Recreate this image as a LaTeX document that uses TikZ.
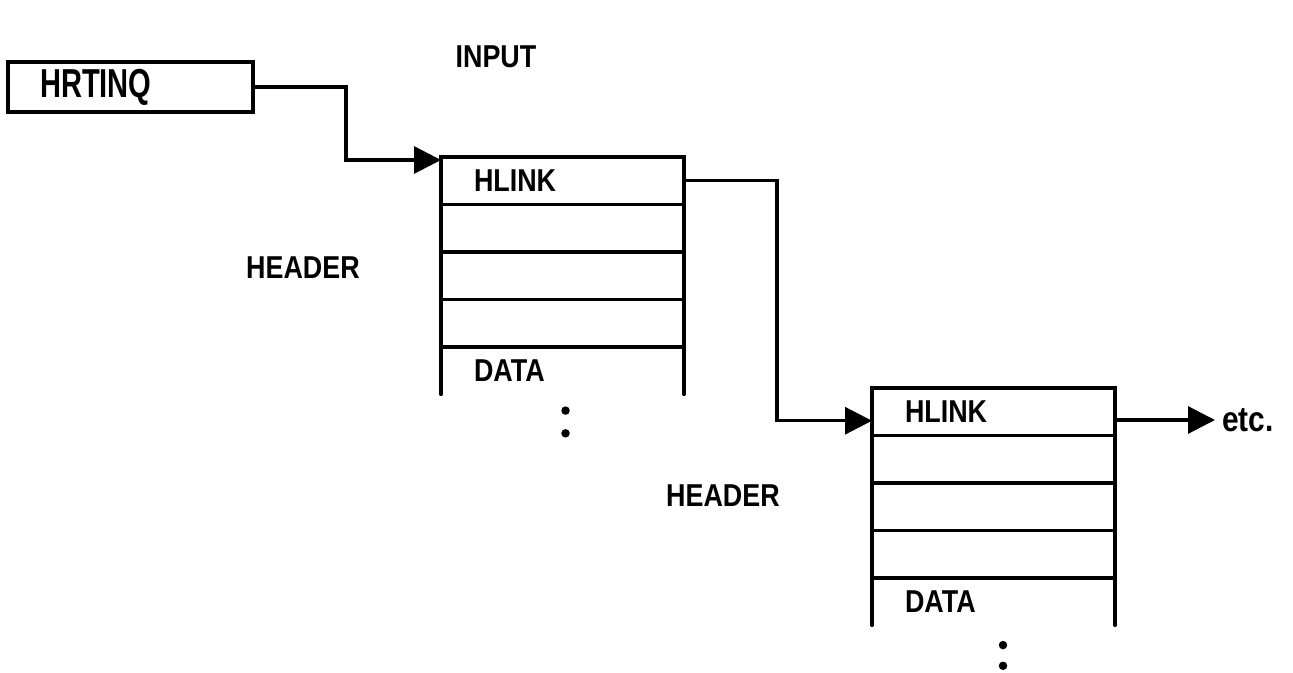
\documentclass[tikz,border=0pt]{standalone}
\usepackage{fontspec}
\newfontfamily\lblfont{Liberation Sans}[FakeStretch=0.85]
\newfontfamily\ptrfont{Liberation Sans}[FakeStretch=0.72]
\usetikzlibrary{positioning,arrows.meta,calc}
\newcommand\lblsize{\lblfont\bfseries\fontsize{18}{21}\selectfont}
\newcommand\ptrsize{\ptrfont\bfseries\fontsize{23}{26}\selectfont}

\begin{document}
\begin{tikzpicture}[
    lbl/.style={font=\lblsize, inner sep=0pt},
    ptrbox/.style={rectangle, draw, line width=1.8pt, outer sep=0pt,
        minimum width=4.9cm, minimum height=1cm, text width=3.62cm,
        inner xsep=0.64cm, align=left, font=\ptrsize},
    field/.style={rectangle, draw, line width=1.8pt, outer sep=0pt,
        minimum height=0.95cm, text width=3.54cm, inner xsep=0.66cm,
        align=left, font=\lblsize},
    side/.style={line width=1.8pt, line cap=round},
    dot/.style={circle, fill, inner sep=0pt, minimum size=0.17cm},
    link/.style={draw, line width=1.8pt, -{Triangle[length=0.54cm, width=0.54cm]}}]

    \useasboundingbox (0,0) rectangle (25.86,-13.46);

    % ====== Input pointer ======
    \node [lbl] (input) at (9.92,-1.14) {INPUT};
    \node [ptrbox, anchor=north west] (hrtinq) at (0.16,-1.24) {HRTINQ};
    \coordinate (in1) at ([yshift=-0.06cm]8.82,-3.14);

    % ====== First header ======
    \node [field, anchor=north west] (h1) at (8.82,-3.14) {HLINK};
    \node [field, below=0pt of h1]  (r11) {};
    \node [field, below=0pt of r11] (r12) {};
    \node [field, below=0pt of r12] (r13) {};
    \node [field, draw=none, below=0pt of r13] (d1) {DATA};
    \draw [side] (d1.north west) -- (d1.south west)
                 (d1.north east) -- (d1.south east);
    \node [dot, below=0.23cm of d1.south, xshift=0.06cm] (c1a) {};
    \node [dot, below=0.27cm of c1a] (c1b) {};
    \node [lbl] (hdr1) at (6.06,-5.36) {HEADER};

    % ====== Second header ======
    \node [field, anchor=north west] (h2) at (17.44,-7.76) {HLINK};
    \node [field, below=0pt of h2]  (r21) {};
    \node [field, below=0pt of r21] (r22) {};
    \node [field, below=0pt of r22] (r23) {};
    \node [field, draw=none, below=0pt of r23] (d2) {DATA};
    \draw [side] (d2.north west) -- (d2.south west)
                 (d2.north east) -- (d2.south east);
    \node [dot, below=0.30cm of d2.south, xshift=0.19cm] (c2a) {};
    \node [dot, below=0.23cm of c2a] (c2b) {};
    \node [lbl] (hdr2) at (14.46,-9.92) {HEADER};
    \coordinate (in2) at ([yshift=-0.18cm]h2.west);

    \node [lbl, font=\lblfont\bfseries\fontsize{20}{22}\selectfont,
        anchor=west, inner xsep=0.14cm] (etc) at (24.30,-8.40) {etc.};

    % ====== Lines ======
    \path [link] (hrtinq.east) -- ++(1.86,0) |- (in1);
    \path [link] (h1.east) -- ++(1.86,0) |- (in2);
    \path [link] (h2.east |- etc.west) -- (etc.west);
\end{tikzpicture}
\end{document}
